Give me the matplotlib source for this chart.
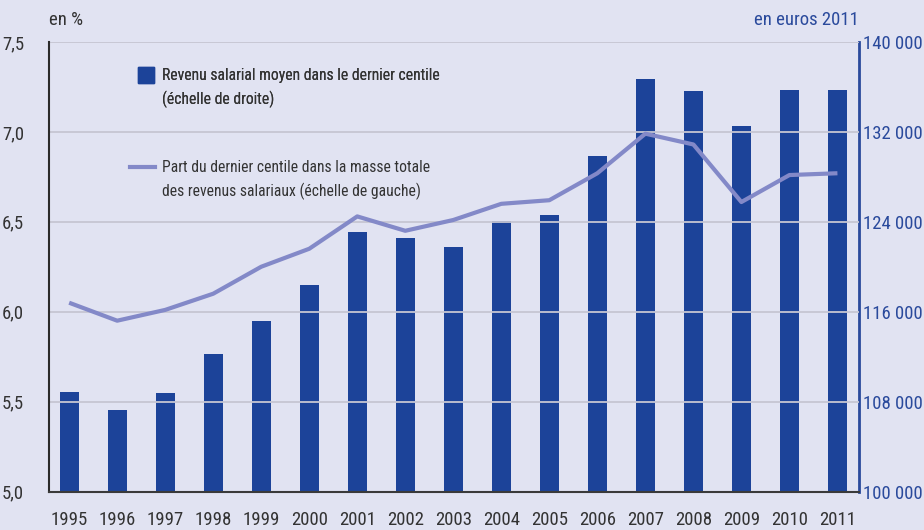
import matplotlib
matplotlib.use("Agg")
import matplotlib.pyplot as plt
from matplotlib import font_manager as fm
from matplotlib.ticker import FixedLocator
from matplotlib.lines import Line2D

# pick a narrow font if one is installed (the original uses a condensed Helvetica)
narrow = None
for f in fm.fontManager.ttflist:
    if f.style != 'normal' or f.weight not in (400, 'normal', 'regular'):
        continue
    key = (f.name + ' ' + f.fname).lower()
    if 'narrow' in key or 'condensed' in key or f.stretch in ('condensed', 'semi-condensed'):
        if 'mono' in key or 'serif' in key and 'sans' not in key:
            continue
        rank = 0 if 'liberation' in key else 1 if 'roboto' in key else 2 if 'open' in key else 3
        if narrow is None or rank < narrow[0]:
            narrow = (rank, f)

if narrow is not None:
    plt.rcParams['font.family'] = [narrow[1].name, 'DejaVu Sans']
    plt.rcParams['font.stretch'] = narrow[1].stretch
    fs = {0: 14, 1: 13.5, 2: 13, 3: 12.5}[narrow[0]]
    fs_leg = fs * 0.835
else:
    plt.rcParams['font.family'] = ['Liberation Sans', 'DejaVu Sans']
    fs = 12
    fs_leg = 10.5

years = [str(y) for y in range(1995, 2012)]
revenu = [108850, 107250, 108770, 112240, 115170, 118380, 123070, 122530, 121760,
          124070, 124600, 129860, 136710, 135640, 132520, 135730, 135730]
part = [6.05, 5.95, 6.01, 6.10, 6.25, 6.35, 6.53, 6.45, 6.51,
        6.60, 6.62, 6.77, 6.99, 6.93, 6.61, 6.76, 6.77]

left_ticks = [5.0, 5.5, 6.0, 6.5, 7.0, 7.5]
right_ticks = [100000, 108000, 116000, 124000, 132000, 140000]

bg = '#e1e3f2'
bar_col = '#1c4399'
line_col = '#8389c8'
blue_txt = '#2a4a9c'
grey_txt = '#333333'

fig = plt.figure(figsize=(9.24, 5.30), dpi=100, facecolor=bg)
ax = fig.add_axes([0.053, 0.0726, 0.8767, 0.8482])
ax.set_facecolor(bg)
ax2 = ax.twinx()

x = list(range(len(years)))

for t in left_ticks[1:]:
    ax.axhline(t, color='#c6c6d2', lw=1.3, zorder=0)

ax2.bar(x, revenu, width=0.4, color=bar_col, zorder=2)
ax.plot(x, part, color=line_col, lw=3, zorder=5, solid_capstyle='butt')

# line drawn over the bars
ax.set_zorder(ax2.get_zorder() + 1)
ax.patch.set_visible(False)
ax2.patch.set_visible(True)
ax2.patch.set_facecolor(bg)

ax.set_xlim(-0.42, 16.45)
ax.set_ylim(5.0, 7.5)
ax2.set_ylim(100000, 140000)

ax.yaxis.set_major_locator(FixedLocator(left_ticks))
ax.set_yticklabels([f"{t:.1f}".replace('.', ',') for t in left_ticks],
                   fontsize=fs, color=grey_txt)
ax2.yaxis.set_major_locator(FixedLocator(right_ticks))
ax2.set_yticklabels([f"{t:,}".replace(',', ' ') for t in right_ticks],
                    fontsize=fs, color=blue_txt)
ax.set_xticks(x)
ax.set_xticklabels(years, fontsize=fs, color=grey_txt)

ax.tick_params(axis='y', length=0, pad=18)
ax2.tick_params(axis='y', length=0, pad=3)
ax.tick_params(axis='x', length=0, pad=14)

for a in (ax, ax2):
    a.spines['top'].set_visible(False)
ax.spines['left'].set_color('#2b2b2b')
ax.spines['left'].set_linewidth(1.5)
ax.spines['bottom'].set_color('#3a3a3a')
ax.spines['bottom'].set_linewidth(1.5)
ax.spines['right'].set_visible(False)
ax2.spines['left'].set_visible(False)
ax2.spines['bottom'].set_visible(False)
ax2.spines['right'].set_color(blue_txt)
ax2.spines['right'].set_linewidth(2)

fig.text(0.053, 0.962, "en %", fontsize=fs, color=grey_txt, ha='left', va='center')
fig.text(0.9297, 0.962, "en euros 2011", fontsize=fs, color=blue_txt, ha='right', va='center')

# legend: two blocks, handle next to the first line of each label
blank = Line2D([], [], ls='none')
sq = Line2D([], [], marker='s', ls='none', markersize=11.5, color=bar_col)
ln = Line2D([], [], color=line_col, lw=3)
leg_kw = dict(loc='upper left', frameon=False, fontsize=fs_leg, borderpad=0,
              borderaxespad=0, labelspacing=0.5, labelcolor=grey_txt)
leg1 = fig.legend([sq, blank], ["Revenu salarial moyen dans le dernier centile",
                                "(échelle de droite)"],
                  bbox_to_anchor=(138 / 924, 1 - 68 / 530), handlelength=0.98,
                  handletextpad=0.57, **leg_kw)
fig.legend([ln, blank], ["Part du dernier centile dans la masse totale",
                         "des revenus salariaux (échelle de gauche)"],
           bbox_to_anchor=(130 / 924, 1 - 160 / 530), handlelength=1.6,
           handletextpad=0.42, **leg_kw)
fig.add_artist(leg1)

fig.savefig("out.png", dpi=100, facecolor=bg)
